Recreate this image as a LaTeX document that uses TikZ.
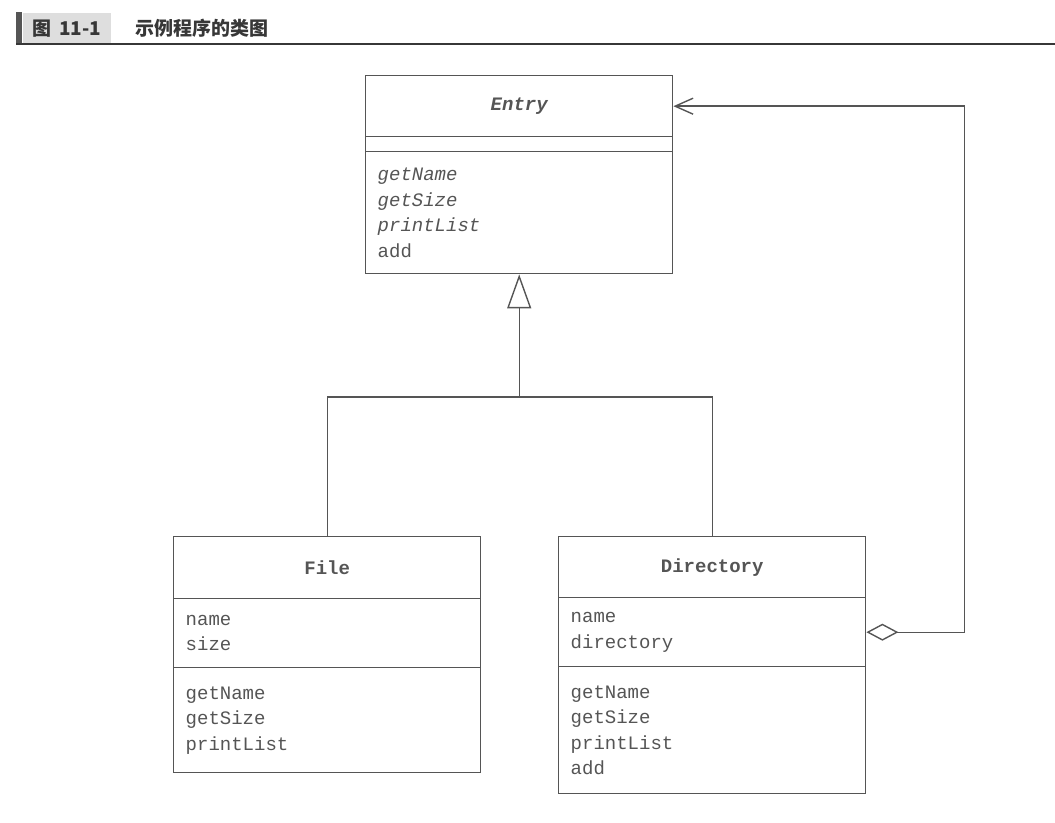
\documentclass[tikz,border=0pt]{standalone}
\usepackage{fontspec}
\setmonofont{Liberation Mono}
\newfontfamily\cjk{Noto Sans CJK SC}
\usetikzlibrary{positioning, arrows.meta}
\definecolor{umlgray}{RGB}{85,85,85}
\definecolor{headgray}{RGB}{222,222,222}
\definecolor{headtext}{RGB}{55,55,55}

\begin{document}
\begin{tikzpicture}[x=0.5pt, y=-0.5pt, line width=0.7pt, color=umlgray,
	font=\ttfamily\fontsize{9.5}{12.75}\selectfont, node distance=-0.7pt,
	classname/.style={draw, minimum width=153.5pt, inner sep=0pt, font=\ttfamily\bfseries\fontsize{9.5}{12.75}\selectfont},
	compartment/.style={draw, text width=141.5pt, inner xsep=6pt, inner ysep=0pt, align=left}]
				% Bildbereich
				\useasboundingbox (0,0) rectangle (1055,823);
				% Kopfzeile
				\fill[umlgray] (16,12) rectangle (22,43);
				\node[fill=headgray, anchor=north west, minimum width=44pt, minimum height=15.5pt, inner sep=0pt,
					text=headtext, font=\cjk\bfseries\fontsize{9.5}{9.5}\selectfont] (fignum) at (22,12) {图\hspace{4pt}11-1};
				\node[anchor=west, text=headtext, font=\cjk\bfseries\fontsize{9.5}{9.5}\selectfont] (figtitle) at (128,28) {示例程序的类图};
				\draw[headtext, line width=0.8pt] (16,44) -- (1055,44);
				% Klasse Entry
				\node[classname, anchor=north west, minimum height=30.5pt] (entry) at (365,75) {\itshape Entry};
				\node[compartment, minimum height=7.5pt, below=of entry] (entry-attr) {};
				\node[compartment, minimum height=61pt, below=of entry-attr] (entry-ops) {\textit{getName}\\\textit{getSize}\\\textit{printList}\\add};
				% Klasse File
				\node[classname, anchor=north west, minimum height=31pt] (file) at (173,536) {File};
				\node[compartment, minimum height=34.5pt, below=of file] (file-attr) {name\\size};
				\node[compartment, minimum height=52.5pt, below=of file-attr] (file-ops) {getName\\getSize\\printList};
				% Klasse Directory
				\node[classname, anchor=north west, minimum height=30.5pt] (directory) at (558,536) {Directory};
				\node[compartment, minimum height=34.5pt, below=of directory] (directory-attr) {name\\directory};
				\node[compartment, minimum height=63.5pt, below=of directory-attr] (directory-ops) {getName\\getSize\\printList\\add};
				% Vererbung
				\coordinate (fork) at (entry-ops.south |- 0,397);
				\draw (file.north) |- (fork) -| (directory.north);
				\draw[-{Triangle[open, length=17pt, width=12pt]}] (fork) -- (entry-ops.south);
				% Aggregation
				\draw[{Diamond[open, length=16pt, width=8.5pt]}-{Straight Barb[length=9pt, width=8pt]}]
					(directory-attr.east) -- ++(98,0) |- (entry.east);
		\end{tikzpicture}
\end{document}
